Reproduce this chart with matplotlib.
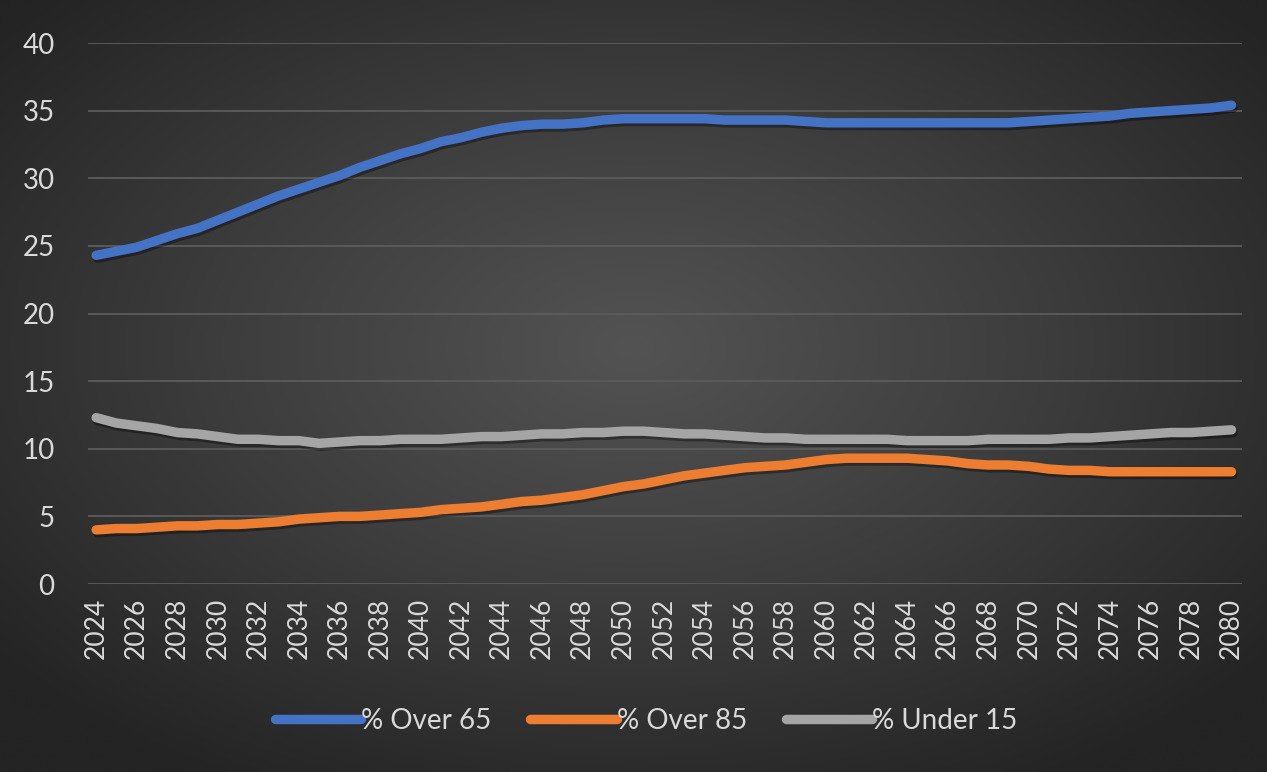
import numpy as np
import matplotlib.pyplot as plt
import matplotlib.patheffects as pe
from matplotlib.colors import LinearSegmentedColormap

years = list(range(2024, 2081))

over_65 = [24.3, 24.6, 24.9, 25.4, 25.9, 26.3, 26.9, 27.5, 28.1, 28.7,
           29.2, 29.7, 30.2, 30.8, 31.3, 31.8, 32.2, 32.7, 33.0, 33.4,
           33.7, 33.9, 34.0, 34.0, 34.1, 34.3, 34.4, 34.4, 34.4, 34.4,
           34.4, 34.3, 34.3, 34.3, 34.3, 34.2, 34.1, 34.1, 34.1, 34.1,
           34.1, 34.1, 34.1, 34.1, 34.1, 34.1, 34.2, 34.3, 34.4, 34.5,
           34.6, 34.8, 34.9, 35.0, 35.1, 35.2, 35.4]

over_85 = [4.0, 4.1, 4.1, 4.2, 4.3, 4.3, 4.4, 4.4, 4.5, 4.6,
           4.8, 4.9, 5.0, 5.0, 5.1, 5.2, 5.3, 5.5, 5.6, 5.7,
           5.9, 6.1, 6.2, 6.4, 6.6, 6.9, 7.2, 7.4, 7.7, 8.0,
           8.2, 8.4, 8.6, 8.7, 8.8, 9.0, 9.2, 9.3, 9.3, 9.3,
           9.3, 9.2, 9.1, 8.9, 8.8, 8.8, 8.7, 8.5, 8.4, 8.4,
           8.3, 8.3, 8.3, 8.3, 8.3, 8.3, 8.3]

under_15 = [12.3, 11.9, 11.7, 11.5, 11.2, 11.1, 10.9, 10.7, 10.7, 10.6,
            10.6, 10.4, 10.5, 10.6, 10.6, 10.7, 10.7, 10.7, 10.8, 10.9,
            10.9, 11.0, 11.1, 11.1, 11.2, 11.2, 11.3, 11.3, 11.2, 11.1,
            11.1, 11.0, 10.9, 10.8, 10.8, 10.7, 10.7, 10.7, 10.7, 10.7,
            10.6, 10.6, 10.6, 10.6, 10.7, 10.7, 10.7, 10.7, 10.8, 10.8,
            10.9, 11.0, 11.1, 11.2, 11.2, 11.3, 11.4]

series = [("% Over 65", over_65, "#4472C4"),
          ("% Over 85", over_85, "#ED7D31"),
          ("% Under 15", under_15, "#A5A5A5")]

plt.rcParams['font.family'] = ['Lato', 'DejaVu Sans']
text_color = "#D9D9D9"

fig = plt.figure(figsize=(12.67, 7.72), dpi=100)

# radial gradient background like the Excel chart style
bg = fig.add_axes([0, 0, 1, 1], zorder=-10)
gx, gy = np.meshgrid(np.linspace(-1, 1, 400), np.linspace(-1, 1, 300))
r = np.clip(np.sqrt(gx ** 2 + (gy + 0.1) ** 2) / 1.3, 0, 1)
bg_cmap = LinearSegmentedColormap.from_list("bg", ["#535353", "#3d3d3d", "#242424"])
bg.imshow(r, cmap=bg_cmap, vmin=0, vmax=1, aspect="auto",
          extent=[0, 1, 0, 1], interpolation="bicubic")
bg.axis("off")

ax = fig.add_axes([0.0695, 0.2435, 0.9105, 0.7008])
ax.set_facecolor("none")

shadow = [pe.SimpleLineShadow(offset=(1, -2), alpha=0.35, shadow_color="black"),
          pe.Normal()]
for label, vals, color in series:
    ax.plot(years, vals, color=color, lw=6.8, solid_capstyle="round",
            solid_joinstyle="round", label=label, path_effects=shadow)

ax.set_ylim(0, 40)
ax.set_xlim(2023.6, 2080.5)
ax.set_yticks(range(0, 41, 5))
ax.set_xticks(years[::2])
ax.set_xticklabels([str(y) for y in years[::2]], rotation=90)
ax.grid(axis="y", color="#5c5c5c", lw=1.3)
ax.set_axisbelow(True)
for s in ax.spines.values():
    s.set_visible(False)
ax.tick_params(axis="y", length=0, pad=24, labelsize=20, labelcolor=text_color)
ax.tick_params(axis="x", length=0, pad=10, labelsize=19, labelcolor=text_color)

leg = fig.legend(loc="center", bbox_to_anchor=(0.51, 0.066), ncol=3,
                 frameon=False, fontsize=20, handlelength=3.1,
                 handletextpad=0.0, columnspacing=1.4)
for t in leg.get_texts():
    t.set_color(text_color)
for h in leg.get_lines():
    h.set_path_effects([])
    h.set_linewidth(6.8)

fig.savefig("out.png", dpi=100)
